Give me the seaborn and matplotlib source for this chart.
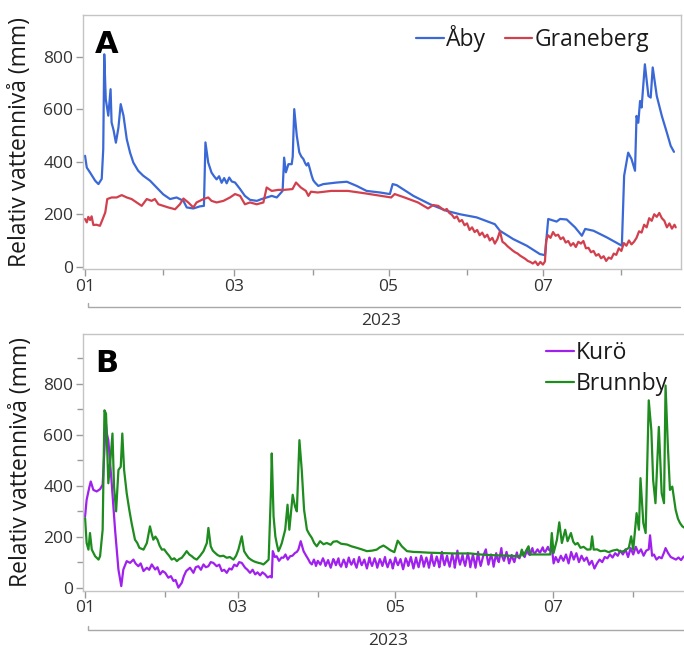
import numpy as np
import pandas as pd
import matplotlib
matplotlib.use("Agg")
import matplotlib.pyplot as plt
import matplotlib.dates as mdates
from matplotlib.ticker import FixedLocator
from matplotlib.lines import Line2D
import seaborn as sns

sns.set_theme(style="white")
plt.rcParams["font.family"] = ["Open Sans", "DejaVu Sans"]

# ---------------- data: [day since 2023-01-01, relative water level (mm)] ----------------
aby = [(0,423),(0.7,378),(2,359),(4,328),(5.3,315),(6.6,335),(7.2,448),(7.6,810),(8.2,639),(9.2,576),
       (10.1,677),(10.5,550),(11.3,520),(12.2,473),(13.2,530),(14.1,620),(15.2,576),(16.5,486),(17.8,435),
       (19.1,397),(21,366),(23,347),(25.7,328),(28.3,302),(30.9,276),(33.6,258),(36.2,264),(38.9,251),
       (40.2,226),(42.8,222),(45.4,230),(47,232),(47.6,474),(48.7,397),(50,359),(51,345),(52,333),(53,345),
       (54,320),(55,338),(56,318),(57,340),(58,325),(59.3,321),(61.3,296),(63.2,270),(65.2,255),(67.9,251),
       (69.8,258),(71.8,264),(73.8,270),(75.8,264),(78.1,289),(78.7,416),(79.4,360),(80.4,391),(81.7,391),
       (82.1,420),(82.7,601),(83.7,500),(84.7,436),(85.5,420),(86.3,411),(87,395),(87.6,386),(88.2,395),
       (88.7,379),(89.6,347),(90.2,330),(90.9,321),(92.2,308),(94.2,315),(99.5,321),(103.5,324),(107.4,308),
       (111.3,289),(116.6,283),(120.5,277),(121.6,315),(123.2,311),(129.8,270),(136.4,238),(142.9,213),
       (148.2,200),(154.8,188),(162,162),(164,137),(169.3,105),(174.6,80),(179.8,48),(181.8,44),(183.1,182),
       (186.4,172),(187.8,182),(190.4,180),(193.7,150),(196.4,118),(197.7,144),(201,137),(206.2,112),
       (212.2,80),(213.1,347),(214.7,435),(216,411),(217.4,366),(218,575),(218.7,549),(219.4,632),(220,607),
       (221.3,772),(222.7,651),(223.6,645),(224.4,760),(226,651),(228,575),(230,511),(231.5,461),(232.8,438)]

graneberg = [(0,182),(0.7,169),(1.3,190),(2,178),(2.6,192),(3.3,159),(4.5,160),(5.9,156),(7,182),(8,207),
       (8.8,258),(10.5,264),(12.5,264),(14.5,273),(16.5,264),(18.4,258),(20.4,245),(22.4,232),(24.4,258),
       (26.3,251),(27.6,258),(29,238),(30.9,232),(32.9,226),(35.6,219),(37.5,238),(38.9,260),(40.8,245),
       (42.8,226),(44.1,245),(46.8,258),(48.7,264),(50,251),(52,245),(54.7,251),(57.3,264),(59.3,277),
       (61.3,270),(63.2,238),(65.2,245),(67.9,238),(70.5,245),(71.8,302),(73.8,289),(76.4,293),(78.7,293),
       (82,296),(83.4,321),(85.3,302),(87.3,289),(88.3,270),(89.3,286),(92,283),(97.3,289),(103.9,289),
       (110.5,280),(117.1,270),(121,264),(122.4,277),(126.3,264),(131.6,245),(135.6,222),(137.6,235),
       (139.6,232),(142,215),(143,220),(144,205),(145,198),(146,185),(147,192),(148,172),(149,178),(150,158),
       (151,165),(152,140),(153,150),(154,132),(155,140),(156,120),(157,130),(158,112),(159,122),(160,100),
       (161,110),(162,88),(163,105),(164,135),(165,95),(166,88),(167,78),(168,70),(169,62),(170,55),(171,50),
       (172,42),(173,36),(174,30),(175,22),(176,18),(177,12),(178,20),(179,6),(180,18),(181,8),(181.8,20),
       (182.3,100),(183,120),(184,110),(185,132),(186,118),(187,122),(188,105),(189,112),(190,92),(191,98),
       (192,80),(193,90),(194,75),(195,95),(196,88),(197,98),(198,70),(199,72),(200,55),(201,60),(202,42),
       (203,48),(204,32),(205,40),(206,22),(207,35),(208,30),(209,50),(210,45),(211,70),(212,60),(213,90),
       (214,80),(215,100),(216,85),(217,95),(218,110),(219,135),(220,130),(221,160),(222,150),(223,185),
       (224,175),(225,200),(226,190),(227,205),(228,185),(229,175),(230,150),(231,165),(232,145),(233,160),
       (233.5,150)]

kuro = [(0,279),(0.6,344),(1.7,396),(2.2,416),(3.2,383),(4.5,377),(5.8,386),(6.8,403),(7.6,560),(8,650),
       (8.5,600),(9,578),(10.3,409),(11.6,227),(12.9,71),(14,6),(14.8,71),(16.1,104),(17.4,97),(18.7,110),
       (19.5,95),(20.6,84),(21.5,95),(22.6,65),(23.9,78),(24.8,70),(25.8,91),(27.1,71),(28,80),(29,52),
       (30,65),(31,58),(32.2,39),(33.2,45),(34.2,26),(35,30),(36.1,0),(37.4,19),(38.2,45),(39.1,65),(40.6,78),
       (41.9,58),(42.8,80),(43.8,84),(44.8,70),(45.8,91),(46.7,80),(47.7,84),(48.6,100),(49.6,97),(50.9,84),
       (51.9,90),(52.9,65),(53.8,70),(54.8,58),(55.8,75),(56.7,71),(57.7,90),(58.7,84),(59.6,100),(60.6,97),
       (61.9,78),(62.8,70),(63.8,58),(64.8,70),(65.8,52),(66.7,60),(67.7,48),(68.6,60),(69.6,52),(70.6,40),
       (71.6,45),(72.2,40),(72.6,143),(73.4,120),(74.1,123),(75,105),(76,118),(76.7,117),(77.5,130),
       (78.4,110),(79.3,123),(80.2,125),(81.2,136),(81.9,140),(82.5,149),(83.4,182),(84.5,143),(85.5,125),
       (86.4,110),(87,98),(87.7,91),(88.5,110),(89,96),(89.3,85),(90,105),(90.5,98),(91,90),(92,115),(92.6,100),
       (93,85),(94,108),(94.4,95),(95,78),(96,112),(96.5,102),(97,88),(98,115),(98.4,92),(99,82),(100,110),
       (100.6,96),(101,80),(102,118),(102.5,100),(103,90),(104,112),(104.3,96),(105,78),(106,120),(106.6,98),
       (107,88),(108,110),(108.5,92),(109,75),(110,118),(110.4,100),(111,85),(112,115),(112.6,96),(113,78),
       (114,112),(114.5,100),(115,85),(116,120),(116.4,98),(117,80),(118,110),(118.6,94),(119,75),(120,118),
       (120.5,100),(121,88),(122,112),(122.4,96),(123,72),(124,115),(124.6,100),(125,85),(126,120),(126.5,98),
       (127,75),(128,118),(128.4,100),(129,80),(130,125),(130.6,104),(131,82),(132,118),(132.5,100),(133,78),
       (134,130),(134.4,105),(135,85),(136,122),(136.6,100),(137,80),(138,140),(138.5,108),(139,88),(140,125),
       (140.4,104),(141,82),(142,132),(142.6,105),(143,78),(144,145),(144.5,110),(145,90),(146,128),
       (146.4,106),(147,85),(148,135),(148.6,108),(149,80),(150,130),(150.5,104),(151,78),(152,140),
       (152.4,110),(153,85),(154,125),(155,150),(155.5,118),(156,90),(157,130),(157.6,108),(158,82),(159,135),
       (159.5,112),(160,100),(161,155),(161.4,120),(162,105),(163,140),(163.6,115),(164,95),(165,128),
       (165.5,112),(166,100),(167,138),(167.4,120),(168,115),(169,145),(169.6,128),(170,120),(171,150),
       (171.5,132),(172,128),(173,155),(173.4,138),(174,135),(175,150),(175.6,140),(176,138),(177,158),
       (177.5,142),(178,140),(179,160),(179.4,148),(180,145),(180.5,160),(181.2,95),(182,120),(183,100),
       (184,125),(185,105),(186,130),(187,95),(188,140),(189,110),(190,135),(191,100),(192,125),(193,105),
       (194,118),(195,90),(196,105),(197,75),(198,95),(199,110),(200,100),(201,120),(202,115),(203,130),
       (204,118),(205,135),(206,125),(207,145),(208,130),(209,150),(210,120),(211,155),(212,130),(213,160),
       (214,135),(215,150),(216,125),(217,145),(218,150),(218.5,205),(219.3,125),(220,130),(221,110),
       (222,120),(223,115),(224,140),(224.5,155),(225.5,135),(226.5,120),(227.5,115),(228.5,110),
       (229.5,118),(230.5,108),(231.5,122),(233,118)]

brunnby = [(0,273),(0.6,175),(1.3,149),(1.9,214),(2.6,149),(3.9,123),(5.2,110),(5.8,123),(6.8,227),
       (7.5,695),(8.1,682),(9,409),(9.9,513),(10.6,604),(11.2,396),(12,299),(12.9,461),(13.8,474),(14.4,604),
       (15.1,461),(16.1,370),(17.1,305),(18,253),(19.3,188),(20.2,175),(21,156),(22.6,149),(23.9,175),
       (25.1,240),(25.8,210),(26.4,188),(27.2,200),(28,188),(28.8,165),(29.7,149),(30.6,150),(31.6,136),
       (32.5,125),(33.5,110),(34.5,115),(35.5,104),(36.4,112),(37.4,117),(38.4,130),(39.3,143),(40.3,130),
       (41.3,123),(42.2,115),(43.2,110),(44.5,125),(45.8,143),(47.1,175),(47.7,234),(48.6,162),(49.4,145),
       (50.3,136),(51.2,128),(52.2,123),(53.5,125),(54.8,117),(56,120),(57.4,110),(58.4,125),(59.3,149),
       (60.6,201),(61.5,143),(62.3,130),(63.2,117),(64.1,110),(65.1,104),(66.1,100),(67.1,97),(68,95),
       (69,91),(70,100),(71,110),(71.9,383),(72.2,526),(72.9,279),(73.6,200),(74.2,169),(74.8,143),
       (75.4,156),(76.1,175),(77.4,227),(78.3,325),(79,227),(80.3,364),(81.2,318),(81.9,299),(82.9,578),
       (83.8,461),(84.7,305),(85.8,227),(86.7,210),(87.7,195),(88.6,175),(89.6,162),(90.9,182),(92.2,170),
       (93.5,175),(95,168),(96,180),(97.4,182),(99,172),(101.3,169),(103,162),(105.1,156),(107,150),
       (109,143),(111,145),(112.8,149),(114,158),(115.4,165),(116.5,158),(118,147),(119.6,139),(120.9,184),
       (121.6,175),(122.5,162),(124.5,143),(127,140),(129.6,139),(133,137),(136.1,136),(140,135),
       (142.5,134),(146,134),(149,134),(152.8,130),(156,128),(160.5,126),(164,125),(168.3,123),(168.9,149),
       (169.5,125),(171.5,162),(172.2,130),(176,130),(179.9,130),(180.5,214),(181.2,136),(182.5,188),
       (183.4,256),(184.4,175),(185.7,227),(186.6,182),(187.9,214),(188.8,180),(189.6,169),(190.5,175),
       (191.6,156),(192.8,160),(194.2,149),(195.5,150),(196.1,201),(196.7,149),(198,150),(199.3,143),
       (201,145),(202.5,139),(204,145),(205.8,149),(207,140),(208.3,143),(210.3,156),(211.2,201),(212,149),
       (213.3,292),(214.2,227),(214.8,429),(215.9,253),(216.8,214),(218,734),(219,617),(219.7,422),
       (220.6,331),(221.3,487),(221.9,630),(223,370),(223.9,331),(224.5,792),(225.4,552),(226.2,383),
       (227.1,396),(228.4,305),(229.3,270),(230.1,253),(231,240),(231.9,234),(233,230)]

names_a = ["Åby", "Graneberg"]
names_b = ["Kurö", "Brunnby"]
colors = {"Åby": "#3a68d6", "Graneberg": "#d2404e", "Kurö": "#a020ee", "Brunnby": "#1e8c1e"}

START = pd.Timestamp("2023-01-01")


def frame(pairs, name):
    d = np.array(pairs, dtype=float)
    return pd.DataFrame({"date": START + pd.to_timedelta(d[:, 0], unit="D"),
                         "value": d[:, 1], "series": name})


dfA = pd.concat([frame(aby, "Åby"), frame(graneberg, "Graneberg")], ignore_index=True)
dfB = pd.concat([frame(kuro, "Kurö"), frame(brunnby, "Brunnby")], ignore_index=True)

fig = plt.figure(figsize=(6.84, 6.49), dpi=100)
W, H = 684, 649


def px_axes(l, t, r, b):
    return fig.add_axes([l / W, 1 - b / H, (r - l) / W, (b - t) / H])


axA = px_axes(83, 15, 680.8, 269.3)
axB = px_axes(83, 333.5, 694, 590.7)

for ax, df, names in [(axA, dfA, names_a), (axB, dfB, names_b)]:
    sns.lineplot(data=df, x="date", y="value", hue="series", hue_order=names,
                 palette=colors, estimator=None, sort=False, linewidth=1.6,
                 legend=False, ax=ax)
    ax.set_xlim(START + pd.Timedelta(days=-0.8), START + pd.Timedelta(days=235.5))
    ax.xaxis.set_major_locator(mdates.MonthLocator(bymonth=[1, 3, 5, 7]))
    ax.xaxis.set_minor_locator(mdates.MonthLocator(bymonth=[2, 4, 6, 8]))
    ax.xaxis.set_major_formatter(mdates.DateFormatter("%m"))
    ax.set_yticks([0, 200, 400, 600, 800])
    ax.tick_params(axis="both", which="major", direction="out", length=5, width=1,
                   color="#9a9a9a", labelcolor="#333333", labelsize=12.5, pad=2,
                   bottom=True, left=True)
    ax.tick_params(axis="both", which="minor", direction="out", length=4, width=1,
                   color="#9a9a9a", bottom=True, left=True)
    for s in ax.spines.values():
        s.set_color("#c4c4c4")
        s.set_linewidth(1.0)
    ax.set_xlabel("")
    ax.set_ylabel("Relativ vattennivå (mm)", fontsize=16.5, color="#1a1a1a")
    ax.grid(False)

axA.set_ylim(-10, 960)
axB.set_ylim(-12, 996)
axB.yaxis.set_minor_locator(FixedLocator([100, 300, 500, 700, 900]))
axA.yaxis.set_label_coords(-0.085, 0.5)
axB.yaxis.set_label_coords(-0.082, 0.5)

# panel letters
fig.text(95 / W, 1 - 30 / H, "A", fontsize=22, fontweight="bold", color="black",
         va="top", ha="left", family=["DejaVu Sans"])
fig.text(95 / W, 1 - 349 / H, "B", fontsize=22, fontweight="bold", color="black",
         va="top", ha="left", family=["DejaVu Sans"])

# legends
hA = [Line2D([], [], color=colors[n], lw=1.6) for n in names_a]
axA.legend(hA, names_a, ncol=2, frameon=False, fontsize=16.5, handlelength=1.2,
           handletextpad=0.1, columnspacing=0.8, borderpad=0, borderaxespad=0,
           loc="upper right", bbox_to_anchor=(649 / W, 1 - 25 / H),
           bbox_transform=fig.transFigure, labelcolor="#1a1a1a")
hB = [Line2D([], [], color=colors[n], lw=1.6) for n in names_b]
axB.legend(hB, names_b, ncol=1, frameon=False, fontsize=16.5, handlelength=1.2,
           handletextpad=0.1, borderpad=0, borderaxespad=0, labelspacing=0.3,
           loc="upper left", bbox_to_anchor=(546 / W, 1 - 341 / H),
           bbox_transform=fig.transFigure, labelcolor="#1a1a1a")


# year bracket labels
def year_bracket(y_line, x0, x1, y_text, x_text):
    fig.add_artist(Line2D([x0 / W, x0 / W, x1 / W],
                          [1 - (y_line - 4) / H, 1 - y_line / H, 1 - y_line / H],
                          color="#a8a8a8", lw=1.0))
    fig.text(x_text / W, 1 - y_text / H, "2023", fontsize=12.5, color="#333333",
             ha="center", va="center")


year_bracket(307, 88, 680, 321, 381)
year_bracket(630, 88, 690, 641, 388)

fig.savefig("out.png", dpi=100)
